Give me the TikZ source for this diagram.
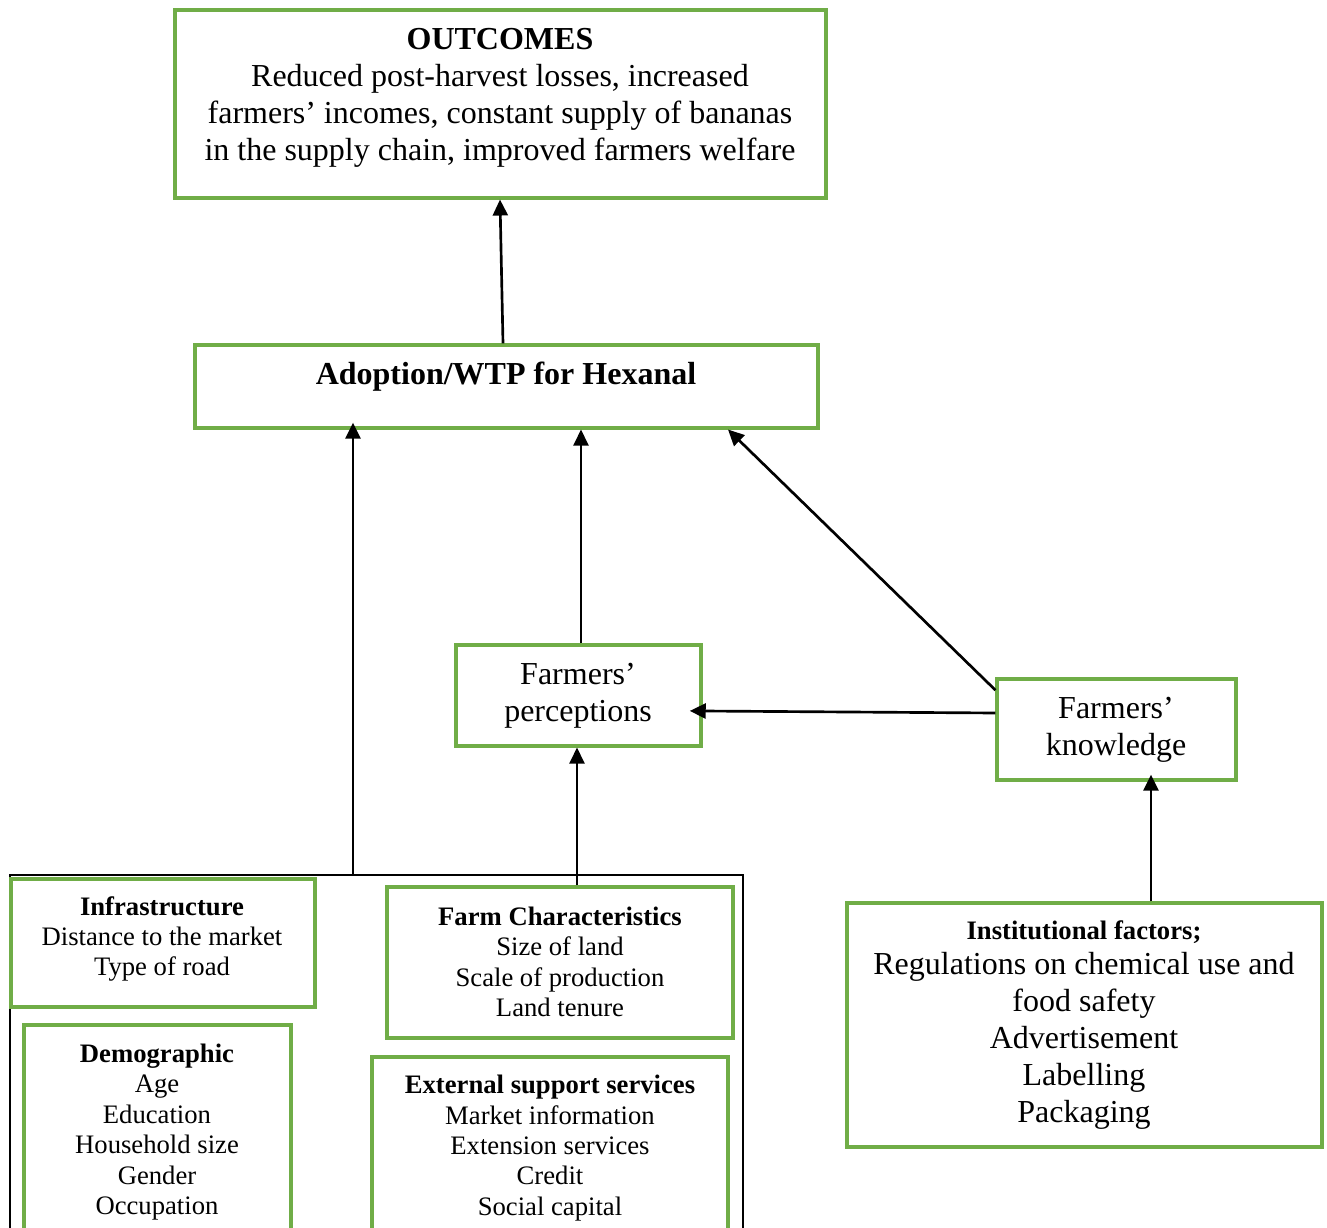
\documentclass[tikz,border=0pt]{standalone}
\usepackage{fontspec}
\setmainfont{Liberation Serif}
\usetikzlibrary{arrows.meta,fit}
\definecolor{boxgreen}{HTML}{70AD47}
\tikzset{
  box/.style={draw=boxgreen, line width=1.15pt, inner sep=0pt},
  frame/.style={draw=black, line width=0.7pt, inner sep=0pt},
  big/.style={align=center, inner sep=0pt, font=\fontsize{12}{13.9}\selectfont},
  small/.style={align=center, inner sep=0pt, font=\fontsize{10}{11.4}\selectfont},
  arr/.style={-{Triangle[length=6pt,width=5.6pt]}, line width=1pt},
}
\begin{document}
\begin{tikzpicture}[x=0.375pt,y=-0.375pt]
                \clip (0,0) rectangle (1327,1228);
                % boxes
                \node[box, fit={(175,10) (826,198)}] (outc) {};
                \node[box, fit={(195,345) (818,428)}] (adopt) {};
                \node[box, fit={(456,645) (701,746)}] (percep) {};
                \node[box, fit={(997,679) (1236,780)}] (know) {};
                \node[box, fit={(847,903) (1322,1147)}] (inst) {};
                \node[frame, fit={(10,875) (743,1260)}] (group) {};
                \node[box, fill=white, fit={(11,879) (315,1007)}] (infra) {};
                \node[box, fit={(387,887) (733,1038)}] (farm) {};
                \node[box, fit={(24,1025) (291,1260)}] (demo) {};
                \node[box, fit={(372,1057) (728,1260)}] (ext) {};
                % texts
                \node[big] (outc-t) at (500,98) {\textbf{OUTCOMES}\\Reduced post-harvest losses, increased\\farmers’ incomes, constant supply of bananas\\in the supply chain, improved farmers welfare};
                \node[big] (adopt-t) at (506,377) {\textbf{Adoption/WTP for Hexanal}};
                \node[big] (percep-t) at (578,696) {Farmers’\\perceptions};
                \node[big] (know-t) at (1116,730) {Farmers’\\knowledge};
                \node[small] (inst-h) at (1084,932) {\textbf{Institutional factors;}};
                \node[big] (inst-t) at (1084,1041) {Regulations on chemical use and\\food safety\\Advertisement\\Labelling\\Packaging};
                \node[small] (infra-t) at (162,939) {\textbf{Infrastructure}\\Distance to the market\\Type of road};
                \node[small] (farm-t) at (560,962) {\textbf{Farm Characteristics}\\Size of land\\Scale of production\\Land tenure};
                \node[small] (demo-t) at (157,1132) {\textbf{Demographic}\\Age\\Education\\Household size\\Gender\\Occupation};
                \node[small] (ext-t) at (550,1148) {\textbf{External support services}\\Market information\\Extension services\\Credit\\Social capital};
                % arrows
                \draw[arr] (adopt.north -| 503,0) -- (outc.south -| 500,0);
                \draw[arr, shorten >=-2.6pt] (group.north -| 353,0) -- (adopt.south -| 353,0);
                \draw[arr] (percep.north -| 581,0) -- (adopt.south -| 581,0);
                \draw[arr] (know.162) -- (adopt.south -| 728,0);
                \draw[arr, shorten >=-4.8pt] (know.west |- 0,713) -- (percep.east |- 0,711);
                \draw[arr] (farm.north -| 577,0) -- (percep.south -| 577,0);
                \draw[arr, shorten >=-2.6pt] (inst.north -| 1151,0) -- (know.south -| 1151,0);
            \end{tikzpicture}
\end{document}
